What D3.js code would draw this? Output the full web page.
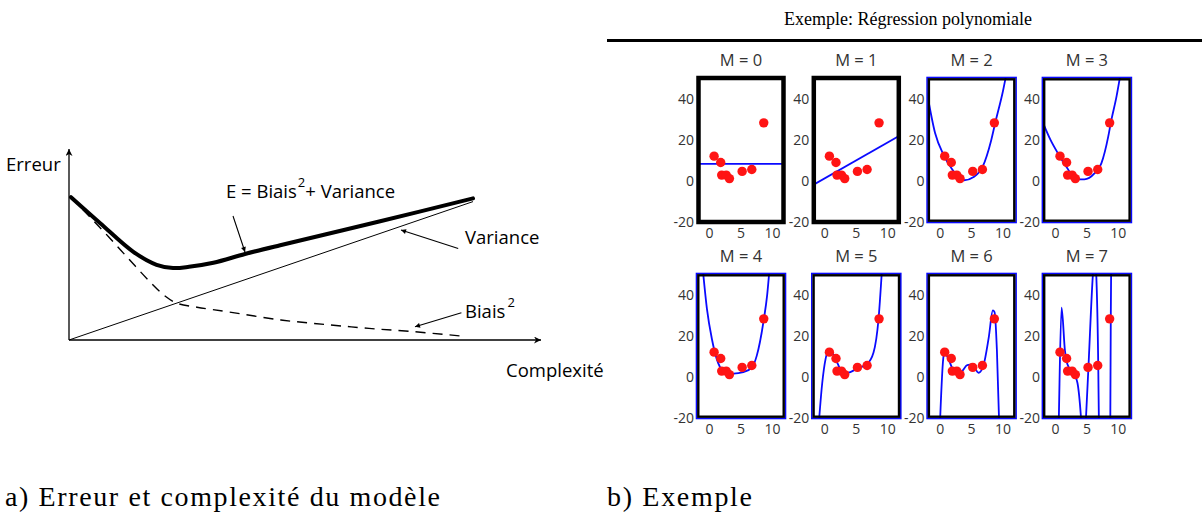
<!DOCTYPE html>
<html>
<head>
<meta charset="utf-8">
<script src="https://d3js.org/d3.v7.min.js"></script>
<style>
	body { margin: 0; background: #fff; }
	svg { display: block; }
</style>
</head>
<body>
<div id="chart"></div>
<script>
/**
 * Panel a) : schematic error / complexity curves (values read off the figure).
 */
var errX = [0.05, 0.78, 1.6, 2.19, 2.6, 3.0, 3.61, 4.4, 5.28, 7.78, 10.1];
var errY = [3.57, 2.92, 2.21, 1.88, 1.80, 1.83, 1.93, 2.15, 2.37, 2.97, 3.54];
var varX = [0, 10.1];
var varY = [0, 3.46];
var biasX = [0.05, 0.5, 1.0, 1.5, 2.0, 2.4, 2.7, 3.2, 4, 5.3, 6.5, 7.5, 8.6, 9.8];
var biasY = [3.57, 3.10, 2.57, 2.02, 1.48, 1.10, 0.92, 0.82, 0.70, 0.50, 0.38, 0.29, 0.21, 0.10];

/**
 * Panel b) : polynomial regression, M = 0..7 (values read off the figure).
 */
var pointX = [0.72, 1.77, 1.93, 2.65, 3.16, 5.18, 6.72, 8.62];
var pointY = [12.0, 8.9, 2.8, 2.8, 1.1, 4.6, 5.5, 28.2];
var orders = ["M = 0", "M = 1", "M = 2", "M = 3", "M = 4", "M = 5", "M = 6", "M = 7"];
var fits = [
	[[-2, 8.3], [12, 8.3]],
	[[-2, -2.2], [12, 22.2]],
	[[-2.1, 43], [-0.81, 23.3], [0.54, 12.6], [1.9, 5.6], [3.0, 1.6], [3.8, 0.3], [5.4, 2.0], [6.76, 6.9], [8.1, 19.5], [8.76, 28.2], [10, 43.8], [10.6, 53]],
	[[-2.1, 29], [-0.81, 20], [0.54, 12.6], [1.89, 6.1], [3.24, 0.7], [4.6, 0.7], [6.2, 3.6], [7.3, 8.5], [8.4, 21.6], [8.8, 28.2], [9.73, 41.3], [10.4, 53]],
	[[-1.1, 53], [-0.42, 33.1], [0.37, 18.4], [1.16, 8.5], [2.2, 2.8], [3.8, 1.6], [5.37, 2.3], [6.7, 4.4], [7.5, 10.2], [8.63, 27.9], [9.16, 39.7], [9.55, 53]],
	[[-1.0, -24], [-0.42, -3], [0.1, 8.5], [0.53, 12.6], [1.16, 11.8], [1.95, 6.9], [3.0, 1.6], [4.05, 2.3], [5.37, 4.4], [6.68, 6.1], [7.74, 11.8], [8.53, 27.9], [9.1, 53]],
	[[-0.05, -24], [0.54, 10.2], [0.72, 11.8], [1.2, 9.5], [1.9, 4.4], [2.7, 1.1], [3.5, 2.8], [4.3, 5.7], [5.1, 6.0], [6.1, 2.0], [6.86, 5.3], [7.73, 19.2], [8.38, 32.3], [8.65, 31.5], [9.03, 12.6], [9.4, -24]],
	[[0.3, -60], [0.54, -19.4], [0.97, 33.6], [1.51, 12.6], [1.9, 6.1], [2.97, 1.1], [3.5, -3], [4.05, -19.4], [4.45, -40], [4.86, -19.4], [5.24, 4.4], [5.95, 49.6], [6.22, 60], [6.49, 49.6], [6.81, 4.4], [6.9, -19.4], [7.8, -80], [8.6, -80], [8.8, 28.4], [8.95, 90]]
];
var xTicks = [0, 5, 10];
var yTicks = [-20, 0, 20, 40];

var width = 1202,
	height = 516;

var svg = d3.select("#chart").append("svg")
	.attr("width", width)
	.attr("height", height);

var defs = svg.append("defs");

// arrow heads
defs.append("marker")
	.attr("id", "axisArrow")
	.attr("viewBox", "0 0 10 10")
	.attr("refX", 10).attr("refY", 5)
	.attr("markerWidth", 11).attr("markerHeight", 7)
	.attr("markerUnits", "userSpaceOnUse")
	.attr("orient", "auto")
	.append("path").attr("d", "M0,0L10,5L0,10L3,5Z").attr("fill", "#000");

defs.append("marker")
	.attr("id", "noteArrow")
	.attr("viewBox", "0 0 10 10")
	.attr("refX", 10).attr("refY", 5)
	.attr("markerWidth", 8).attr("markerHeight", 5)
	.attr("markerUnits", "userSpaceOnUse")
	.attr("orient", "auto")
	.append("path").attr("d", "M0,0L10,5L0,10Z").attr("fill", "#000");

/* ---------------- panel a ---------------- */
{
	var x = d3.scaleLinear().domain([0, 10]).range([69, 469]);
	var y = d3.scaleLinear().domain([0, 5]).range([340, 140]);

	var g = svg.append("g").attr("class", "panel-a");

	var line = d3.line()
		.x(function (d) { return x(d[0]); })
		.y(function (d) { return y(d[1]); })
		.curve(d3.curveCatmullRom.alpha(0.5));

	// axes
	g.append("line")
		.attr("x1", x(0)).attr("y1", y(0))
		.attr("x2", x(0)).attr("y2", 149)
		.attr("stroke", "#000").attr("stroke-width", 1.3)
		.attr("marker-end", "url(#axisArrow)");
	g.append("line")
		.attr("x1", x(0)).attr("y1", y(0))
		.attr("x2", 541).attr("y2", y(0))
		.attr("stroke", "#000").attr("stroke-width", 1.3)
		.attr("marker-end", "url(#axisArrow)");

	g.append("path")
		.datum(d3.zip(varX, varY))
		.attr("d", line)
		.attr("fill", "none").attr("stroke", "#000").attr("stroke-width", 1);

	g.append("path")
		.datum(d3.zip(biasX, biasY))
		.attr("d", line)
		.attr("fill", "none").attr("stroke", "#000").attr("stroke-width", 1.4)
		.attr("stroke-dasharray", "10,7");

	g.append("path")
		.datum(d3.zip(errX, errY))
		.attr("d", line)
		.attr("fill", "none").attr("stroke", "#000").attr("stroke-width", 4)
		.attr("stroke-linecap", "round");

	// annotations
	var notes = [
		{ from: [4.1, 3.1], to: [4.4, 2.2] },
		{ from: [9.73, 2.29], to: [8.3, 2.75] },
		{ from: [9.81, 0.68], to: [8.65, 0.33] }
	];
	g.selectAll(".note").data(notes).enter().append("line")
		.attr("class", "note")
		.attr("x1", function (d) { return x(d.from[0]); })
		.attr("y1", function (d) { return y(d.from[1]); })
		.attr("x2", function (d) { return x(d.to[0]); })
		.attr("y2", function (d) { return y(d.to[1]); })
		.attr("stroke", "#000").attr("stroke-width", 1.1)
		.attr("marker-end", "url(#noteArrow)");

	var font = "'Open Sans', sans-serif";
	g.append("text").attr("x", 6).attr("y", 171)
		.attr("font-family", font).attr("font-size", 18.5).text("Erreur");
	g.append("text").attr("x", 506).attr("y", 377)
		.attr("font-family", font).attr("font-size", 18.5).text("Complexité");
	g.append("text").attr("x", 465).attr("y", 244)
		.attr("font-family", font).attr("font-size", 18.5).text("Variance");

	var tb = g.append("text").attr("x", 465).attr("y", 318)
		.attr("font-family", font).attr("font-size", 18.5);
	tb.append("tspan").text("Biais");
	tb.append("tspan").attr("dy", -11).attr("dx", 2).attr("font-size", 13).text("2");

	var te = g.append("text").attr("x", 226).attr("y", 198)
		.attr("font-family", font).attr("font-size", 18.5);
	te.append("tspan").text("E = Biais");
	te.append("tspan").attr("dy", -11).attr("dx", 1).attr("font-size", 13).text("2");
	te.append("tspan").attr("dy", 11).text("+ Variance");
}

/* ---------------- panel b ---------------- */
{
	var left0 = 697,
		step = 115.3,
		panelW = 88,
		top0 = 78,
		rowStep = 196,
		panelH = 144;

	// title and rule
	svg.append("text")
		.attr("x", 908).attr("y", 25)
		.attr("text-anchor", "middle")
		.attr("font-family", "'Liberation Serif', serif")
		.attr("font-size", 18)
		.text("Exemple: Régression polynomiale");
	svg.append("line")
		.attr("x1", 607).attr("x2", 1202)
		.attr("y1", 40.5).attr("y2", 40.5)
		.attr("stroke", "#000").attr("stroke-width", 3);

	var line2;
	orders.forEach(function (name, i) {
		var col = i % 4,
			row = Math.floor(i / 4);
		var x0 = left0 + col * step,
			y0 = top0 + row * rowStep;

		var px = d3.scaleLinear().domain([-2, 12]).range([x0, x0 + panelW]);
		var py = d3.scaleLinear().domain([-20, 50]).range([y0 + panelH, y0]);

		var p = svg.append("g").attr("class", "poly");

		defs.append("clipPath").attr("id", "clip" + i)
			.append("rect")
			.attr("x", x0).attr("y", y0)
			.attr("width", panelW).attr("height", panelH);

		p.append("text")
			.attr("x", x0 + panelW / 2).attr("y", y0 - 12)
			.attr("text-anchor", "middle")
			.attr("font-family", "'Open Sans', sans-serif")
			.attr("font-size", 16.5)
			.attr("fill", "#333")
			.text(name);

		// ticks
		p.selectAll(".ytick").data(yTicks).enter().append("text")
			.attr("class", "ytick")
			.attr("x", x0 - 3)
			.attr("y", function (d) { return py(d); })
			.attr("dy", "0.36em")
			.attr("text-anchor", "end")
			.attr("font-family", "'Open Sans', sans-serif")
			.attr("font-size", 14)
			.attr("fill", "#333")
			.text(function (d) { return d; });

		p.selectAll(".xtick").data(xTicks).enter().append("text")
			.attr("class", "xtick")
			.attr("x", function (d) { return px(d); })
			.attr("y", y0 + panelH + 16)
			.attr("text-anchor", "middle")
			.attr("font-family", "'Open Sans', sans-serif")
			.attr("font-size", 14)
			.attr("fill", "#333")
			.text(function (d) { return d; });

		line2 = d3.line()
			.x(function (d) { return px(d[0]); })
			.y(function (d) { return py(d[1]); })
			.curve(d3.curveMonotoneX);

		p.append("path")
			.datum(fits[i])
			.attr("d", line2)
			.attr("clip-path", "url(#clip" + i + ")")
			.attr("fill", "none")
			.attr("stroke", "#0a0aff")
			.attr("stroke-width", 1.8);

		p.selectAll("circle").data(d3.zip(pointX, pointY)).enter().append("circle")
			.attr("cx", function (d) { return px(d[0]); })
			.attr("cy", function (d) { return py(d[1]); })
			.attr("r", 4.7)
			.attr("fill", "#ff1414");

		// frame
		if (i < 2) {
			p.append("rect")
				.attr("x", x0 + 1.5).attr("y", y0)
				.attr("width", panelW - 3).attr("height", panelH)
				.attr("fill", "none").attr("stroke", "#000").attr("stroke-width", 4.5);
		} else {
			p.append("rect")
				.attr("x", x0 - 0.5).attr("y", y0 - 0.5)
				.attr("width", panelW + 1).attr("height", panelH + 1)
				.attr("fill", "none").attr("stroke", "#0a0aff").attr("stroke-width", 1.6);
			p.append("rect")
				.attr("x", x0 + 1.3).attr("y", y0 + 1.3)
				.attr("width", panelW - 2.6).attr("height", panelH - 2.6)
				.attr("fill", "none").attr("stroke", "#000").attr("stroke-width", 2.4);
		}
	});
}

// captions
svg.append("text").attr("x", 5).attr("y", 506)
	.attr("font-family", "'Liberation Serif', serif").attr("font-size", 28)
	.attr("textLength", 435).attr("lengthAdjust", "spacing")
	.text("a) Erreur et complexité du modèle");
svg.append("text").attr("x", 607).attr("y", 506)
	.attr("font-family", "'Liberation Serif', serif").attr("font-size", 28)
	.attr("textLength", 145).attr("lengthAdjust", "spacing")
	.text("b) Exemple");
</script>
</body>
</html>
